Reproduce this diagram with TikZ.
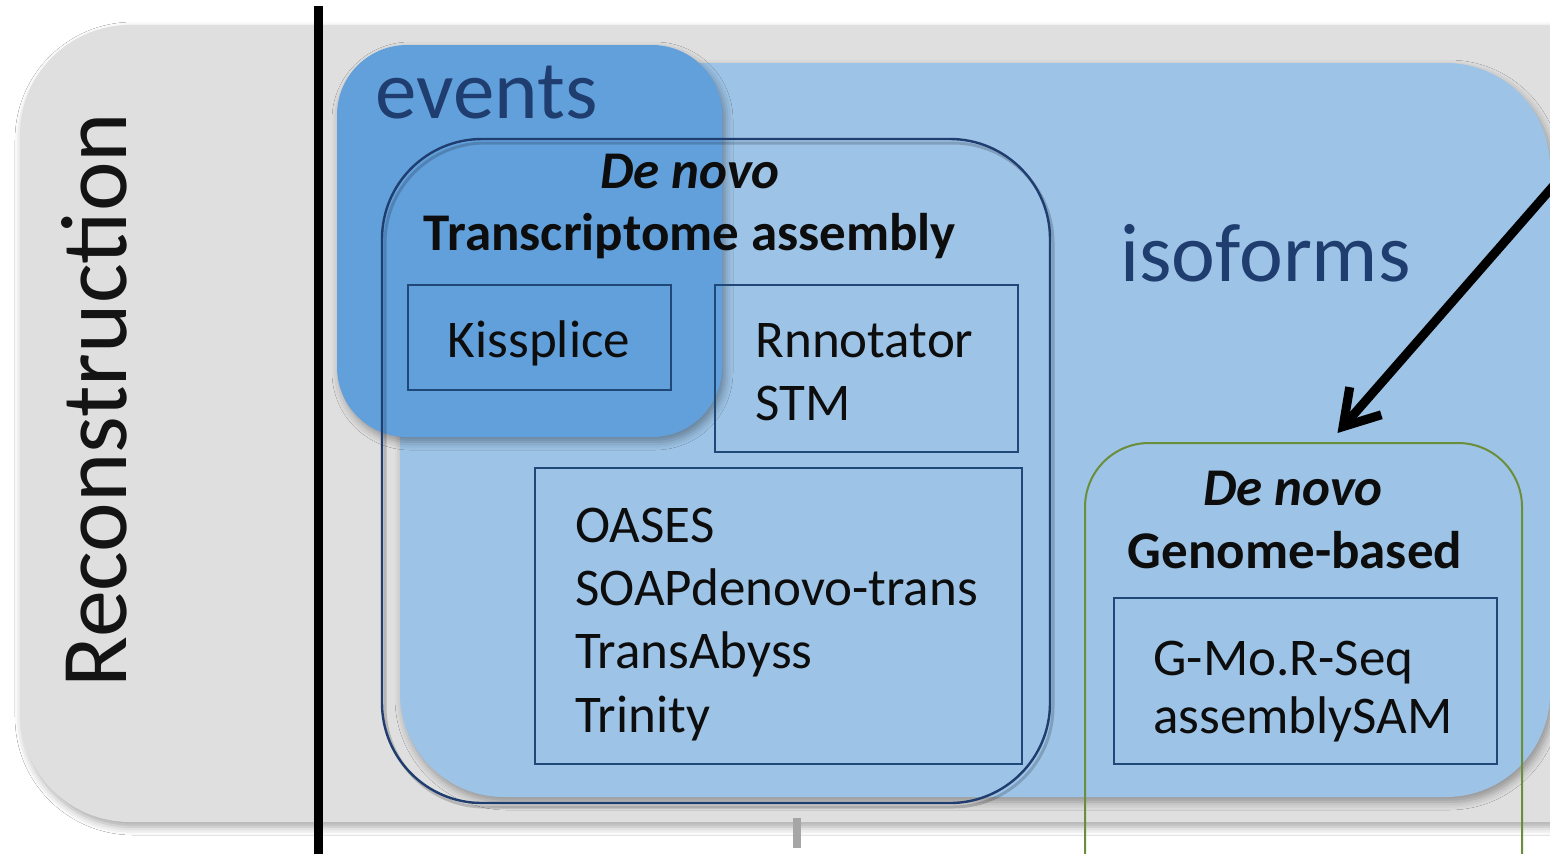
\documentclass[tikz,border=0pt]{standalone}
\usepackage{fontspec}
\setmainfont{Carlito}
\usetikzlibrary{fit,shadows.blur,arrows.meta}
\definecolor{bggray}{HTML}{DFDFDF}
\definecolor{lblue}{HTML}{9DC3E6}
\definecolor{evblue}{HTML}{62A0DC}
\definecolor{navy}{HTML}{1F3D6E}
\definecolor{boxline}{HTML}{1F4878}
\definecolor{olive}{HTML}{6B8E3A}
\definecolor{tickgray}{HTML}{A6A6A6}
\begin{document}
\begin{tikzpicture}[x=0.5pt,y=-0.5pt,
  panel/.style={inner sep=0pt, outer sep=0pt},
  toolbox/.style={panel, draw=boxline, line width=1.3pt},
  txt/.style={inner sep=0pt, font=\fontsize{26.5}{31.7}\selectfont, text=black!95},
  hdr/.style={txt, font=\fontsize{26.5}{31.7}\selectfont\bfseries},
  hdrit/.style={txt, font=\fontsize{26.5}{31.7}\selectfont\bfseries\itshape},
  big/.style={inner sep=0pt, font=\fontsize{41.5}{50}\selectfont, text=navy},
  soft/.style={blur shadow={shadow xshift=1.5pt, shadow yshift=-2.5pt, shadow blur radius=4pt, shadow opacity=35}}]
\clip (0,0) rectangle (1550,853);
\fill[white] (0,0) rectangle (1550,853);

% background panel
\node[panel, fit={(20,25) (1750,822)}, fill=bggray, rounded corners=55pt, soft] (bg) {};
\node[rotate=90, anchor=base, inner sep=0pt, font=\fontsize{47}{56}\selectfont, text=black!92] (recon) at (126,400) {Reconstruction};

% divider and tick
\coordinate (divtop) at (318,6);
\coordinate (divbot) at (318,860);
\draw[line width=4.5pt, black] (divtop) -- (divbot);
\coordinate (ticktop) at (797,818);
\coordinate (tickbot) at (797,848);
\draw[line width=4pt, tickgray] (ticktop) -- (tickbot);

% isoforms panel
\node[panel, fit={(400,63) (1550,797)}, fill=lblue, rounded corners=52pt, soft] (iso) {};

% events panel
\node[panel, fit={(337,45) (722,437)}, fill=evblue, rounded corners=35pt, soft] (ev) {};

% transcriptome outline (with faint shadow)
\draw[line width=1.5pt, black, opacity=0.18, rounded corners=50pt] (385,143) rectangle (1053,807);
\node[panel, fit={(382,139) (1050,803)}, draw=navy, line width=1.2pt, rounded corners=50pt] (tra) {};

% tool boxes
\node[toolbox, fit={(408,285) (671,390)}] (kbox) {};
\node[toolbox, fit={(715,285) (1018,452)}] (rbox) {};
\node[toolbox, fit={(535,468) (1022,764)}] (obox) {};

% genome-based outline
\node[panel, fit={(1085,443) (1522,960)}, draw=olive, line width=1pt, rounded corners=32pt] (gbox) {};
\node[toolbox, fit={(1114,598) (1497,764)}] (gmbox) {};

% labels
\node[big, anchor=base west] (evlab) at (375,118) {events};
\node[big, anchor=base west] (isolab) at (1120,281) {isoforms};

\node[hdrit, anchor=base] (dn1) at (690,188) {De novo};
\node[hdr, anchor=base] (ta) at (690,250) {Transcriptome assembly};
\node[txt, anchor=base] (kis) at (539,357) {Kissplice};
\node[txt, anchor=base west] (rnn) at (755,357) {Rnnotator};
\node[txt, anchor=base west] (stm) at (755,420) {STM};
\node[txt, anchor=base west] (oas) at (575,542) {OASES};
\node[txt, anchor=base west] (soap) at (575,605) {SOAPdenovo-trans};
\node[txt, anchor=base west] (tabs) at (575,668) {TransAbyss};
\node[txt, anchor=base west] (trin) at (575,732) {Trinity};

\node[hdrit, anchor=base] (dn2) at (1293,505) {De novo};
\node[hdr, anchor=base] (gb) at (1295,568) {Genome-based};
\node[txt, anchor=base west] (gmo) at (1153,675) {G-Mo.R-Seq};
\node[txt, anchor=base west] (asam) at (1153,733) {assemblySAM};

% arrow
\coordinate (astart) at (1562,176);
\draw[line width=4.5pt, line cap=round, -{Straight Barb[length=17pt,width=21pt]}]
  (astart) -- ([xshift=17pt,yshift=5pt]gbox.north);
\end{tikzpicture}
\end{document}
